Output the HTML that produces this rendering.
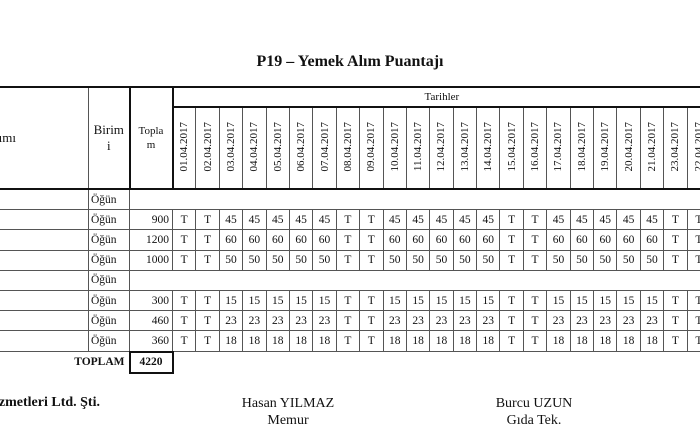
<!DOCTYPE html>
<html><head><meta charset="utf-8"><style>
body{margin:0;width:700px;height:441px;overflow:hidden;background:#fff;font-family:"Liberation Serif",serif;color:#111;position:relative}
.t{position:absolute;white-space:nowrap}
table{position:absolute;left:-40px;top:86px;width:750px;border-collapse:collapse;table-layout:fixed;font-size:11.5px}
td{padding:0;text-align:center;border:1px solid #555;overflow:hidden;white-space:nowrap}
tr.d td{height:19.2px}
.dt{writing-mode:vertical-rl;transform:rotate(180deg);display:inline-block;font-size:11px}
td.n{border:none}
.b{text-align:left;padding-left:2px}
.r{text-align:right;padding-right:3px}
.k{border-left:2px solid #111;border-right:2px solid #111}
</style></head><body>
<div class="t" style="left:0;width:700px;text-align:center;top:53px;font-weight:bold;font-size:16px">P19 – Yemek Alım Puantajı</div>
<table>
<colgroup><col style="width:128px"><col style="width:41px"><col style="width:43px">
<col style="width:23.4px"><col style="width:23.4px"><col style="width:23.4px"><col style="width:23.4px"><col style="width:23.4px"><col style="width:23.4px"><col style="width:23.4px"><col style="width:23.4px"><col style="width:23.4px"><col style="width:23.4px"><col style="width:23.4px"><col style="width:23.4px"><col style="width:23.4px"><col style="width:23.4px"><col style="width:23.4px"><col style="width:23.4px"><col style="width:23.4px"><col style="width:23.4px"><col style="width:23.4px"><col style="width:23.4px"><col style="width:23.4px"><col style="width:23.4px"><col style="width:23.4px"></colgroup>
<tr style="height:20px"><td rowspan="2" style="text-align:right;padding-right:72px;font-size:13px;border-top:2px solid #111;border-bottom:2px solid #111">Alımı</td><td rowspan="2" style="font-size:13px;line-height:16px;border-top:2px solid #111;border-bottom:2px solid #111">Birim<br>i</td><td rowspan="2" class="k" style="font-size:11px;line-height:14px;border-top:2px solid #111;border-bottom:2px solid #111">Topla<br>m</td><td colspan="23" style="border-top:2px solid #111;border-bottom:2px solid #111;border-left:2px solid #111;font-size:11px">Tarihler</td></tr>
<tr style="height:82px;border-bottom:2px solid #111">
<td style="border-left:2px solid #111"><span class="dt">01.04.2017</span></td><td><span class="dt">02.04.2017</span></td><td><span class="dt">03.04.2017</span></td><td><span class="dt">04.04.2017</span></td><td><span class="dt">05.04.2017</span></td><td><span class="dt">06.04.2017</span></td><td><span class="dt">07.04.2017</span></td><td><span class="dt">08.04.2017</span></td><td><span class="dt">09.04.2017</span></td><td><span class="dt">10.04.2017</span></td><td><span class="dt">11.04.2017</span></td><td><span class="dt">12.04.2017</span></td><td><span class="dt">13.04.2017</span></td><td><span class="dt">14.04.2017</span></td><td><span class="dt">15.04.2017</span></td><td><span class="dt">16.04.2017</span></td><td><span class="dt">17.04.2017</span></td><td><span class="dt">18.04.2017</span></td><td><span class="dt">19.04.2017</span></td><td><span class="dt">20.04.2017</span></td><td><span class="dt">21.04.2017</span></td><td><span class="dt">23.04.2017</span></td><td><span class="dt">22.04.2017</span></td></tr>
<tr class="d"><td></td><td class="b">Öğün</td><td class="n" colspan="24"></td></tr>
<tr class="d"><td></td><td class="b">Öğün</td><td class="r">900</td><td>T</td><td>T</td><td>45</td><td>45</td><td>45</td><td>45</td><td>45</td><td>T</td><td>T</td><td>45</td><td>45</td><td>45</td><td>45</td><td>45</td><td>T</td><td>T</td><td>45</td><td>45</td><td>45</td><td>45</td><td>45</td><td>T</td><td>T</td></tr>
<tr class="d"><td></td><td class="b">Öğün</td><td class="r">1200</td><td>T</td><td>T</td><td>60</td><td>60</td><td>60</td><td>60</td><td>60</td><td>T</td><td>T</td><td>60</td><td>60</td><td>60</td><td>60</td><td>60</td><td>T</td><td>T</td><td>60</td><td>60</td><td>60</td><td>60</td><td>60</td><td>T</td><td>T</td></tr>
<tr class="d"><td></td><td class="b">Öğün</td><td class="r">1000</td><td>T</td><td>T</td><td>50</td><td>50</td><td>50</td><td>50</td><td>50</td><td>T</td><td>T</td><td>50</td><td>50</td><td>50</td><td>50</td><td>50</td><td>T</td><td>T</td><td>50</td><td>50</td><td>50</td><td>50</td><td>50</td><td>T</td><td>T</td></tr>
<tr class="d"><td></td><td class="b">Öğün</td><td class="n" colspan="24"></td></tr>
<tr class="d"><td></td><td class="b">Öğün</td><td class="r">300</td><td>T</td><td>T</td><td>15</td><td>15</td><td>15</td><td>15</td><td>15</td><td>T</td><td>T</td><td>15</td><td>15</td><td>15</td><td>15</td><td>15</td><td>T</td><td>T</td><td>15</td><td>15</td><td>15</td><td>15</td><td>15</td><td>T</td><td>T</td></tr>
<tr class="d"><td></td><td class="b">Öğün</td><td class="r">460</td><td>T</td><td>T</td><td>23</td><td>23</td><td>23</td><td>23</td><td>23</td><td>T</td><td>T</td><td>23</td><td>23</td><td>23</td><td>23</td><td>23</td><td>T</td><td>T</td><td>23</td><td>23</td><td>23</td><td>23</td><td>23</td><td>T</td><td>T</td></tr>
<tr class="d"><td></td><td class="b">Öğün</td><td class="r">360</td><td>T</td><td>T</td><td>18</td><td>18</td><td>18</td><td>18</td><td>18</td><td>T</td><td>T</td><td>18</td><td>18</td><td>18</td><td>18</td><td>18</td><td>T</td><td>T</td><td>18</td><td>18</td><td>18</td><td>18</td><td>18</td><td>T</td><td>T</td></tr>
<tr class="d"><td class="n r" colspan="2" style="font-weight:bold;border:none;padding-right:4px">TOPLAM</td><td style="font-weight:bold;border:2px solid #111">4220</td><td class="n" colspan="23"></td></tr>
</table>
<div class="t" style="right:600px;top:395px;font-weight:bold;font-size:14px">Hizmetleri Ltd. Şti.</div>
<div class="t" style="left:188px;width:200px;text-align:center;top:395px;font-size:14px;line-height:17px">Hasan YILMAZ<br>Memur</div>
<div class="t" style="left:434px;width:200px;text-align:center;top:395px;font-size:14px;line-height:17px">Burcu UZUN<br>Gıda Tek.</div>
</body></html>
